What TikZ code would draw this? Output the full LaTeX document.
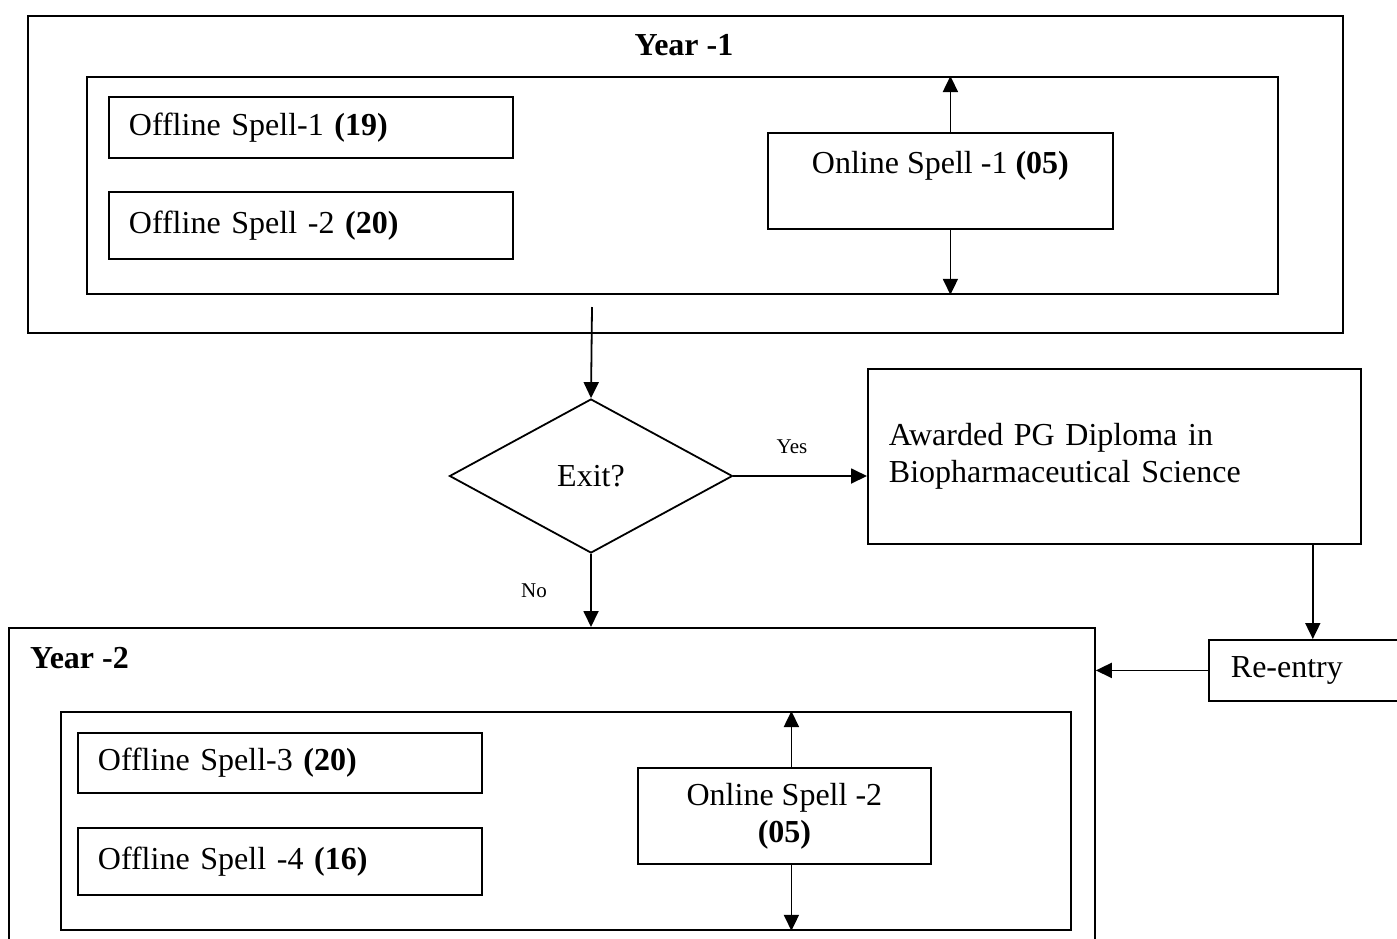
\documentclass[tikz,border=0pt]{standalone}
\usepackage{fontspec}
\setmainfont{Liberation Serif}
\usetikzlibrary{positioning,arrows.meta,shapes.geometric}
\tikzset{
  frame/.style={rectangle,draw,line width=1.8pt,anchor=north west,inner sep=0pt},
  spell/.style={frame,font=\fontsize{32}{37}\selectfont,align=left,inner xsep=20pt},
  online/.style={frame,font=\fontsize{32}{37}\selectfont,align=center},
  title/.style={font=\bfseries\fontsize{32}{37}\selectfont,inner sep=0pt},
  note/.style={font=\fontsize{21}{25}\selectfont,inner sep=0pt},
  decide/.style={diamond,draw,line width=1.8pt,minimum width=283pt,minimum height=154pt,
                 inner sep=0pt,font=\fontsize{32}{37}\selectfont},
  edge/.style={-{Triangle[length=16pt,width=15pt]},line width=1.8pt},
}
\begin{document}
\begin{tikzpicture}[x=1pt,y=-1pt]
\clip (0,0) rectangle (1397,938);

% Year 1
\node[frame,minimum width=1315pt,minimum height=317pt] (yr1) at (27,15) {};
\node[title] (yr1t) at (684,45) {Year -1};
\node[frame,minimum width=1191pt,minimum height=217pt] (in1) at (86,76) {};
\node[spell,text width=364pt,minimum height=61pt] (off1) at (108,96) {Offline Spell-1 \textbf{(19)}};
\node[spell,text width=364pt,minimum height=67pt] (off2) at (108,191) {Offline Spell -2 \textbf{(20)}};
\node[online,minimum width=345pt,minimum height=96pt] (on1) at (767,132) {Online Spell -1 \textbf{(05)}\\ \mbox{}};
\draw[edge] ([xshift=10pt]on1.north) -- ([xshift=10pt]on1.north |- in1.north);
\draw[edge] ([xshift=10pt]on1.south) -- ([xshift=10pt]on1.south |- in1.south);

% decision
\coordinate (y1out) at (592,307);
\node[decide] (exit) at (591,476) {Exit?};
\draw[edge] (y1out) -- (exit.north);
\node[spell,inner xsep=21pt,text width=451pt,minimum height=175pt] (award) at (867,368)
  {Awarded PG Diploma in\\Biopharmaceutical Science};
\draw[edge] (exit.east) -- (exit.east -| award.west);
\node[note] (yes) at (792,447) {Yes};

% Year 2
\node[frame,minimum width=1086pt,minimum height=360pt] (yr2) at (8,627) {};
\node[title,anchor=west] (yr2t) at (30,658) {Year -2};
\draw[edge] (exit.south) -- (exit.south |- yr2.north);
\node[note] (no) at (534,591) {No};
\node[frame,minimum width=1010pt,minimum height=218pt] (in2) at (60,711) {};
\node[spell,text width=364pt,minimum height=60pt] (off3) at (77,732) {Offline Spell-3 \textbf{(20)}};
\node[spell,text width=364pt,minimum height=67pt] (off4) at (77,827) {Offline Spell -4 \textbf{(16)}};
\node[online,minimum width=293pt,minimum height=96pt] (on2) at (637,767) {Online Spell -2\\\textbf{(05)}};
\draw[edge] ([xshift=7pt]on2.north) -- ([xshift=7pt]on2.north |- in2.north);
\draw[edge] ([xshift=7pt]on2.south) -- ([xshift=7pt]on2.south |- in2.south);

% re-entry
\node[spell,inner xsep=22pt,text width=150pt,minimum height=61pt] (reent) at (1208,639) {Re-entry};
\draw[edge] ([xshift=-49pt]award.south east) -- ([xshift=-49pt]award.south east |- reent.north);
\draw[edge] (reent.west) -- (reent.west -| yr2.east);

\end{tikzpicture}
\end{document}
